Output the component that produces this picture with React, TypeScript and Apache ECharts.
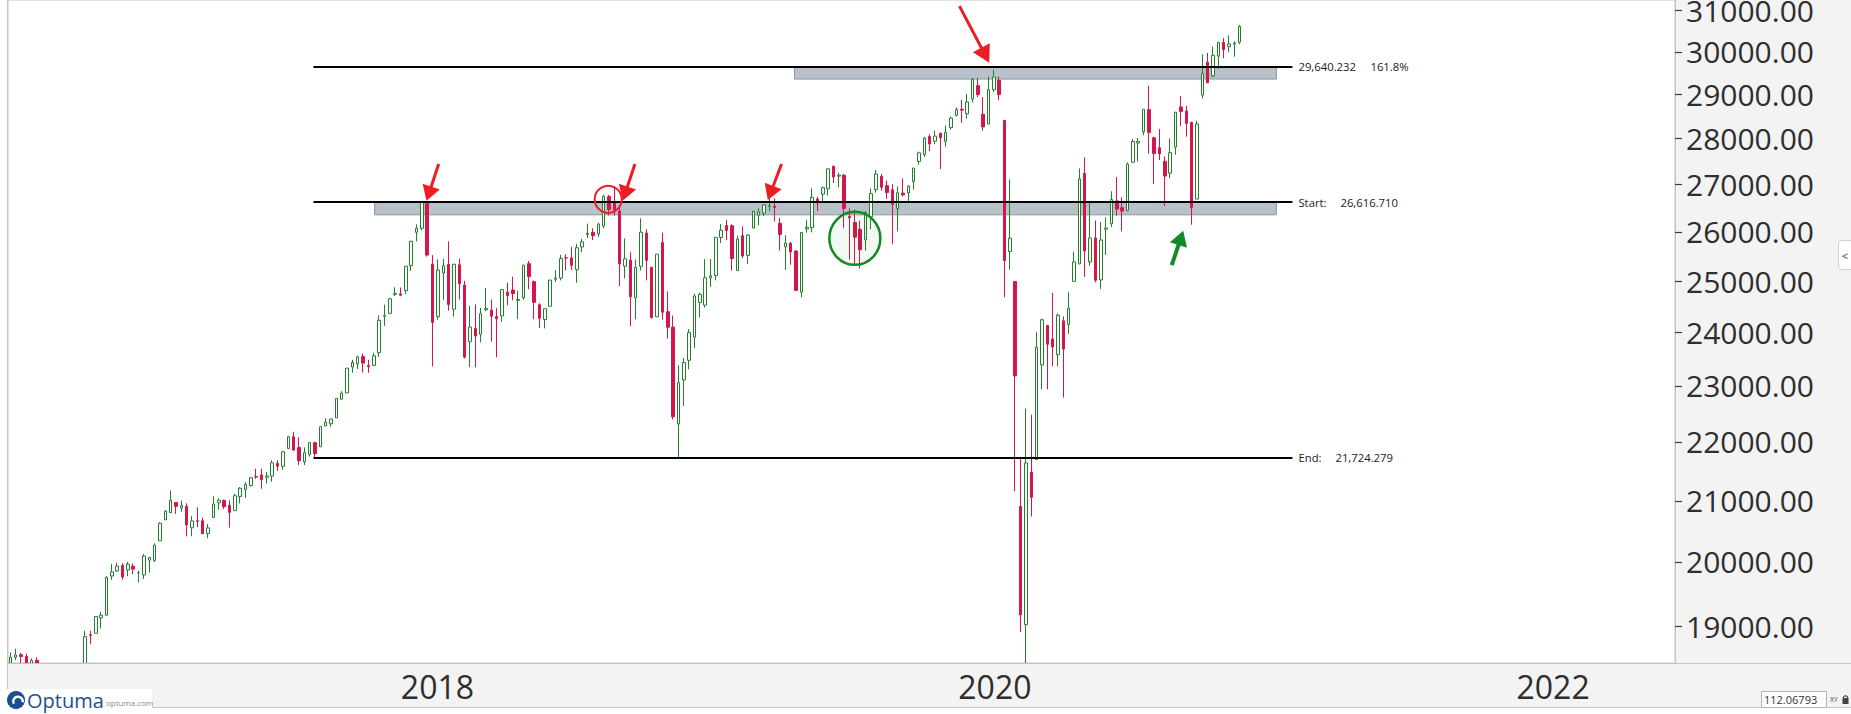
import React, { useEffect, useRef } from "react";
import * as echarts from "echarts";

const FONT = "'Open Sans', 'Noto Sans', 'DejaVu Sans', sans-serif";

// Weekly DJIA candles, one per week starting Monday 2016-08-01
const FIRST_WEEK = "2016-08-01";
const OPEN = [
  18432, 18542, 18579, 18553, 18403, 18497, 18054, 18136, 18221, 18283,
  18282, 18131, 18150, 18175, 17994, 18876, 18898, 19132, 19171, 19777,
  19858, 19943, 19873, 19931, 19826, 19794, 20028, 20025, 20338, 20681,
  20801, 20967, 20876, 20903, 20550, 20665, 20665, 20454, 20719, 20962,
  21002, 20920, 20831, 21064, 21186, 21252, 21401, 21432, 21392, 21412,
  21628, 21578, 21883, 22091, 21905, 21655, 21785, 21988, 21916, 22280,
  22320, 22424, 22759, 22873, 23348, 23403, 23545, 23376, 23380, 23617,
  24311, 24366, 24739, 24746, 24809, 25308, 25987, 26070, 26584, 25337,
  24301, 25160, 25330, 24447, 25326, 24922, 23824, 24076, 23963, 24436,
  24428, 24304, 24317, 24779, 24821, 24619, 24670, 25347, 24986, 24533,
  24247, 24504, 25036, 25060, 25466, 25462, 25226, 25685, 25940, 25988,
  25950, 26116, 26733, 26598, 26430, 25297, 25418, 24673, 25294, 25972,
  25274, 24300, 25779, 24398, 24101, 22317, 23110, 23474, 23910, 24579,
  24526, 25062, 25108, 25880, 26127, 26122, 25208, 25916, 25514, 26075,
  26341, 26385, 26530, 26528, 26174, 25688, 25764, 25602, 24782, 26057,
  26085, 26681, 26787, 26899, 27386, 27171, 27190, 26313, 26190, 26050,
  25832, 26307, 26882, 27168, 26968, 26879, 26478, 26810, 26811, 27057,
  27492, 27641, 28040, 27936, 28109, 27935, 28240, 28515, 28654, 28553,
  28889, 29197, 28542, 28319, 29102, 29322, 28403, 25591, 24992, 20900,
  19028, 21480, 21693, 23389, 24133, 23873, 23579, 24221, 24152, 24994,
  25342, 27232, 25382, 25870, 25023, 26050, 26163, 26643, 26498, 26437,
  27474, 27896, 28146, 28645, 28013, 27792, 27493, 27237, 27807, 28707,
  28615, 28356, 26681, 28977, 29743, 29427, 29891, 30216, 30114, 30176,
  30223,
];
const HIGH = [
  18613, 18668, 18607, 18595, 18523, 18538, 18264, 18449, 18399, 18309,
  18400, 18233, 18255, 18178, 18934, 18935, 19152, 19225, 19774, 19966,
  19988, 19981, 19999, 19973, 19860, 20125, 20071, 20298, 20639, 20840,
  21169, 20970, 21000, 20951, 20741, 20887, 20715, 20611, 21070, 21034,
  21017, 21000, 21113, 21225, 21305, 21392, 21536, 21535, 21480, 21682,
  21681, 21841, 22092, 22179, 22085, 21905, 21988, 22004, 22275, 22419,
  22405, 22777, 22905, 23329, 23485, 23557, 23602, 23485, 23617, 24327,
  24534, 24669, 24876, 24872, 25299, 25809, 26153, 26617, 26609, 25520,
  25432, 25441, 25800, 25340, 25449, 25005, 24511, 24540, 24474, 24858,
  24635, 24468, 24839, 24966, 25086, 24806, 25326, 25402, 25010, 24563,
  24456, 25019, 25215, 25527, 25540, 25692, 25746, 25850, 26167, 26071,
  26183, 26769, 26770, 26951, 26516, 25861, 25579, 25433, 26277, 26049,
  25283, 25538, 25980, 24797, 24324, 23381, 23518, 24064, 24750, 24770,
  25439, 25439, 25883, 26156, 26241, 26156, 25920, 26109, 25949, 26430,
  26487, 26565, 26695, 26696, 26286, 25927, 25790, 25618, 25984, 26244,
  26908, 26730, 26952, 27332, 27398, 27250, 27221, 26486, 26460, 26229,
  26423, 26908, 27306, 27219, 27080, 26998, 26951, 27122, 26976, 27347,
  27708, 28036, 28090, 28175, 28133, 28290, 28491, 28702, 28872, 29009,
  29374, 29373, 28931, 29408, 29568, 29409, 28403, 27102, 24992, 21740,
  22595, 22480, 24009, 24264, 24134, 24765, 24365, 24307, 24778, 25585,
  27338, 27580, 26611, 26230, 26204, 26292, 26848, 27151, 26719, 27470,
  27990, 28008, 28654, 29199, 28036, 28212, 27600, 28000, 28588, 28958,
  28735, 28374, 28395, 29934, 29964, 30116, 30218, 30320, 30389, 30249,
  30637,
];
const LOW = [
  18247, 18500, 18450, 18351, 18359, 18085, 17992, 18086, 18094, 18161,
  17959, 17942, 18069, 17784, 17994, 18735, 18898, 18970, 19171, 19717,
  19843, 19718, 19775, 19806, 19677, 19731, 19831, 19999, 20338, 20681,
  20801, 20777, 20813, 20412, 20412, 20561, 20453, 20379, 20719, 20847,
  20857, 20553, 20831, 20950, 21044, 21234, 21365, 21197, 21283, 21315,
  21498, 21519, 21883, 21843, 21600, 21600, 21745, 21709, 21916, 22280,
  22269, 22424, 22759, 22873, 23242, 23314, 23247, 23242, 23380, 23539,
  24126, 24366, 24701, 24699, 24741, 25200, 25799, 26030, 25490, 23360,
  24241, 24627, 24418, 24301, 24636, 23510, 23345, 23344, 23809, 24411,
  23824, 23532, 24205, 24525, 24622, 24252, 24634, 24836, 24252, 24084,
  24076, 24500, 24980, 25012, 25213, 25222, 24965, 25582, 25867, 25828,
  25890, 26070, 26337, 26332, 24899, 25052, 24122, 24250, 25211, 25012,
  24268, 24300, 24242, 23881, 22397, 21724, 22638, 23307, 23705, 24288,
  24478, 24883, 25014, 25765, 25827, 25208, 25208, 25462, 25345, 26075,
  26130, 26322, 26425, 26213, 25610, 25222, 25327, 24805, 24680, 25982,
  25986, 26430, 26635, 26755, 27028, 26932, 26078, 25427, 25339, 25250,
  25611, 26051, 26817, 26863, 26688, 25743, 26005, 26737, 26624, 26884,
  27422, 27591, 27719, 27872, 27325, 27816, 28193, 28492, 28350, 28443,
  28811, 28930, 28169, 28319, 29052, 28865, 24681, 25226, 21154, 18917,
  18214, 20735, 21693, 22941, 22941, 23361, 23362, 22790, 23974, 24994,
  25342, 25082, 25304, 24974, 24843, 25523, 26094, 26332, 26005, 26437,
  27474, 27487, 28070, 27664, 26999, 27519, 26537, 27125, 27637, 28278,
  28039, 26144, 26681, 28903, 29263, 29388, 29589, 29841, 29983, 29878,
  30176,
];
const CLOSE = [
  18543, 18576, 18552, 18395, 18492, 18085, 18124, 18262, 18308, 18240,
  18138, 18145, 18161, 17888, 18847, 18868, 19152, 19171, 19757, 19843,
  19934, 19763, 19964, 19886, 19827, 20094, 20071, 20269, 20624, 20822,
  21005, 20903, 20915, 20597, 20663, 20656, 20453, 20548, 20941, 21007,
  20897, 20805, 21080, 21206, 21272, 21384, 21395, 21350, 21414, 21638,
  21580, 21830, 22092, 21858, 21675, 21814, 21988, 21798, 22268, 22349,
  22405, 22773, 22871, 23329, 23434, 23539, 23422, 23358, 23558, 24231,
  24329, 24651, 24754, 24719, 25296, 25803, 26072, 26616.71, 25521, 24191,
  25219, 25310, 24538, 25336, 24946, 23533, 24103, 23933, 24360, 24463,
  24311, 24263, 24831, 24715, 24753, 24635, 25317, 25090, 24581, 24271,
  24456, 25019, 25058, 25451, 25463, 25313, 25669, 25790, 25965, 25917,
  26155, 26744, 26458, 26447, 25340, 25444, 24689, 25271, 25989, 25413,
  24286, 25538, 24389, 24100, 22445, 23062, 23433, 23996, 24706, 24737,
  25064, 25106, 25883, 26031, 26026, 25450, 25849, 25502, 25929, 26425,
  26412, 26559, 26543, 26505, 25942, 25764, 25585, 24815, 25983, 26090,
  26719, 26600, 26922, 27332, 27154, 27192, 26485, 26287, 25886, 25629,
  26403, 26797, 27219, 26935, 26820, 26573, 26817, 26770, 26958, 27347,
  27681, 28005, 27876, 28051, 28015, 28135, 28455, 28645, 28635, 28823,
  29348, 28990, 28256, 29103, 29398, 28992, 25409, 25865, 23185, 19174,
  21637, 21053, 23720, 24242, 23775, 23724, 24331, 23685, 24465, 25383,
  27111, 25605, 25871, 25016, 25827, 26075, 26672, 26470, 26428, 27433,
  27931, 27930, 28654, 28133, 27666, 27657, 27174, 27683, 28587, 28606,
  28335, 26502, 28323, 29480, 29263, 29910, 30218, 30046, 30179, 30199,
  30606,
];

// Axes
const Y_TICKS = [19000, 20000, 21000, 22000, 23000, 24000, 25000, 26000, 27000, 28000, 29000, 30000, 31000];
const Y_RANGE = [18457, 31253];
const YEAR_TICKS = ["2018-01-01", "2020-01-01", "2022-01-01"];
const X_RANGE = ["2016-07-29", "2022-07-21"];

// Fibonacci extension tool
const FIB_START = 26616.71;
const FIB_END = 21724.279;
const FIB_EXT = 29640.232;
const FIB_RATIO = "161.8%";
const FIB_SPAN = ["2017-09-02", "2021-03-07"];
const ZONES = [
  { from: "2017-11-21", to: "2021-02-14", low: 26350, high: FIB_START },
  { from: "2019-05-25", to: "2021-02-14", low: 29350, high: FIB_EXT },
];

// Hand-drawn annotations (data coordinates)
const ARROWS = [
  { tail: ["2018-02-13", 27434], tip: ["2018-01-28", 26645], kind: "red" },
  { tail: ["2018-10-28", 27434], tip: ["2018-10-12", 26645], kind: "red" },
  { tail: ["2019-05-08", 27434], tip: ["2019-04-20", 26660], kind: "red" },
  { tail: ["2019-12-27", 31102], tip: ["2020-02-04", 29733], kind: "bigred" },
  { tail: ["2020-09-30", 25318], tip: ["2020-10-15", 26018], kind: "green" },
];
const CIRCLES = [
  { center: ["2018-09-23", 26676], kind: "red" },
  { center: ["2019-08-12", 25862], kind: "green" },
];

const ts = (s: string) => Date.parse(s + "T00:00:00Z");
const DAY = 86400000;
const fmt3 = (n: number) =>
  n.toLocaleString("en-US", { minimumFractionDigits: 3, maximumFractionDigits: 3 });

const UP = "#23802c";
const DOWN = "#d3164b";
const RED = "#ee1d23";
const GREEN = "#138a25";
const PANEL = "#f3f3f3";
const BORDER = "#c4c4c4";
const AXIS_TEXT = "#2e2e2e";

const GRID = { left: 8, top: 0, width: 1667, height: 663 };

function buildGraphics(chart: any) {
  const px = (p: any[]) => chart.convertToPixel({ gridIndex: 0 }, [ts(p[0]), p[1]]) as number[];
  const gRight = GRID.left + GRID.width;
  const gBottom = GRID.top + GRID.height;
  const out: any[] = [];
  // page chrome: white left margin and bottom strip
  out.push({ type: "rect", z: 5, silent: true, shape: { x: 0, y: 0, width: 7, height: 714 }, style: { fill: "#fff" } });
  out.push({ type: "rect", z: 5, silent: true, shape: { x: 0, y: 708, width: 1851, height: 6 }, style: { fill: "#fff" } });
  // bottom time panel drawn over candles that run below the price range
  out.push({ type: "rect", z: 3, silent: true, shape: { x: GRID.left, y: gBottom + 0.5, width: 1851 - GRID.left, height: 707 - gBottom }, style: { fill: PANEL } });
  out.push({ type: "line", z: 4, silent: true, shape: { x1: GRID.left, y1: gBottom + 0.5, x2: 1851, y2: gBottom + 0.5 }, style: { stroke: BORDER, lineWidth: 1 } });
  out.push({ type: "line", z: 6, silent: true, shape: { x1: 7.5, y1: 0, x2: 7.5, y2: 708 }, style: { stroke: BORDER, lineWidth: 1 } });
  out.push({ type: "line", z: 6, silent: true, shape: { x1: 7, y1: 707.5, x2: 1851, y2: 707.5 }, style: { stroke: BORDER, lineWidth: 1 } });
  out.push({ type: "line", z: 4, silent: true, shape: { x1: gRight + 0.5, y1: 0, x2: gRight + 0.5, y2: gBottom }, style: { stroke: BORDER, lineWidth: 1 } });

  // price axis: tick dashes and labels placed through the log scale
  Y_TICKS.forEach((v) => {
    const p = px([X_RANGE[0], v]);
    const y = Math.round(p[1]) + 0.5;
    out.push({ type: "line", z: 9, silent: true, shape: { x1: gRight, y1: y, x2: gRight + 7, y2: y }, style: { stroke: "#3c3c3c", lineWidth: 1.2 } });
    out.push({ type: "text", z: 9, silent: true, x: gRight + 11, y: p[1], style: { text: v.toFixed(2), fill: AXIS_TEXT, font: `30px ${FONT}`, align: "left", verticalAlign: "middle" } });
  });
  // time axis labels at the start of each year
  YEAR_TICKS.forEach((d) => {
    const p = px([d, Y_RANGE[0]]);
    out.push({ type: "text", z: 9, silent: true, x: p[0] - 5, y: gBottom + 23, style: { text: d.slice(0, 4), fill: AXIS_TEXT, font: `32px ${FONT}`, align: "left", verticalAlign: "middle" } });
  });

  // arrows
  ARROWS.forEach((a) => {
    const p1 = px(a.tail);
    const p2 = px(a.tip);
    const color = a.kind === "green" ? GREEN : RED;
    const headLen = a.kind === "bigred" ? 17 : 15;
    const headHalf = a.kind === "bigred" ? 9.5 : 9;
    const lw = a.kind === "green" ? 4 : 3;
    const dx = p2[0] - p1[0];
    const dy = p2[1] - p1[1];
    const len = Math.hypot(dx, dy);
    const ux = dx / len, uy = dy / len;
    const bx = p2[0] - ux * headLen, by = p2[1] - uy * headLen;
    const nx = -uy, ny = ux;
    out.push({ type: "line", z: 10, silent: true, shape: { x1: p1[0], y1: p1[1], x2: bx + ux * 2, y2: by + uy * 2 }, style: { stroke: color, lineWidth: lw } });
    out.push({
      type: "polygon", z: 10, silent: true,
      shape: { points: [[p2[0], p2[1]], [bx + nx * headHalf, by + ny * headHalf], [bx - nx * headHalf, by - ny * headHalf]] },
      style: { fill: color },
    });
  });
  // circles
  CIRCLES.forEach((c) => {
    const p = px(c.center);
    if (c.kind === "red") {
      out.push({ type: "circle", z: 10, silent: true, shape: { cx: p[0], cy: p[1], r: 13.5 }, style: { fill: "none", stroke: RED, lineWidth: 2 } });
    } else {
      out.push({ type: "ellipse", z: 10, silent: true, shape: { cx: p[0], cy: p[1], rx: 25.5, ry: 26.5 }, style: { fill: "rgba(30,140,40,0.06)", stroke: GREEN, lineWidth: 2.5 } });
    }
  });

  // Optuma logo
  out.push({ type: "rect", z: 11, silent: true, shape: { x: 0, y: 689, width: 152, height: 25 }, style: { fill: "#fff" } });
  out.push({ type: "circle", z: 12, silent: true, shape: { cx: 16, cy: 700, r: 9 }, style: { fill: "#1c4f8e" } });
  out.push({ type: "arc", z: 13, silent: true, shape: { cx: 18, cy: 701.5, r: 4.8, startAngle: Math.PI * 0.85, endAngle: Math.PI * 2.05 }, style: { stroke: "#fff", lineWidth: 2.4, fill: "none" } });
  out.push({ type: "text", z: 12, silent: true, x: 27, y: 700, style: { text: "Optuma", fill: "#1c4f8e", font: `20px ${FONT}`, verticalAlign: "middle", align: "left" } });
  out.push({ type: "text", z: 12, silent: true, x: 106, y: 702, style: { text: "optuma.com", fill: "#8a8a8a", font: `8px ${FONT}`, verticalAlign: "middle", align: "left" } });

  // bottom-right scale box
  out.push({ type: "rect", z: 11, silent: true, shape: { x: 1761.5, y: 691.5, width: 65, height: 16 }, style: { fill: "#fff", stroke: "#b4b4b4", lineWidth: 1 } });
  out.push({ type: "text", z: 12, silent: true, x: 1764, y: 699.5, style: { text: "112.06793", fill: "#333", font: `11px ${FONT}`, verticalAlign: "middle", align: "left" } });
  out.push({ type: "text", z: 12, silent: true, x: 1830, y: 699.5, style: { text: "XY", fill: "#444", font: `7px ${FONT}`, verticalAlign: "middle", align: "left" } });
  out.push({ type: "rect", z: 12, silent: true, shape: { x: 1842.5, y: 698, width: 6, height: 6 }, style: { fill: "#444" } });
  out.push({ type: "arc", z: 12, silent: true, shape: { cx: 1845.5, cy: 698, r: 2.2, startAngle: Math.PI, endAngle: 0 }, style: { stroke: "#444", lineWidth: 1.2, fill: "none" } });

  // side toggle button
  out.push({ type: "rect", z: 11, silent: true, shape: { x: 1838.5, y: 240.5, width: 16, height: 29, r: 3 }, style: { fill: "#fff", stroke: "#cfcfcf", lineWidth: 1 } });
  out.push({ type: "text", z: 12, silent: true, x: 1845, y: 255, style: { text: "<", fill: "#777", font: `bold 11px ${FONT}`, verticalAlign: "middle", align: "center" } });
  return out;
}

export default function App() {
  const ref = useRef<HTMLDivElement>(null);
  useEffect(() => {
    const el = ref.current as HTMLDivElement;
    const chart = echarts.init(el, null, { renderer: "svg" });
    const start = ts(FIRST_WEEK);
    const candles = OPEN.map((o, i) => [start + i * 7 * DAY, o, CLOSE[i], LOW[i], HIGH[i]]);
    const labelBase = { fontFamily: FONT, fontSize: 11.3, color: "#1a1a1a" };

    const option: any = {
      animation: false,
      backgroundColor: PANEL,
      grid: {
        ...GRID,
        show: true, backgroundColor: "#ffffff", borderColor: BORDER, borderWidth: 1,
        containLabel: false, outerBoundsMode: "none",
      },
      xAxis: {
        type: "value",
        min: ts(X_RANGE[0]), max: ts(X_RANGE[1]),
        axisLine: { show: false },
        axisTick: { show: false },
        splitLine: { show: false },
        axisLabel: { show: false },
      },
      yAxis: {
        type: "log", logBase: 10, position: "right",
        min: Y_RANGE[0], max: Y_RANGE[1],
        axisLine: { show: false },
        splitLine: { show: false },
        axisTick: { show: false },
        axisLabel: { show: false },
      },
      series: [
        {
          type: "line", data: [], z: 1, silent: true,
          markArea: {
            silent: true,
            itemStyle: { color: "#b8c1ca", borderColor: "#8c97a1", borderWidth: 1 },
            data: ZONES.map((zn) => [{ coord: [ts(zn.from), zn.high] }, { coord: [ts(zn.to), zn.low] }]),
          },
        },
        {
          type: "candlestick", z: 2, clip: true,
          data: candles,
          encode: { x: 0, y: [1, 2, 3, 4] },
          barWidth: 3,
          itemStyle: { color: "#ffffff", color0: DOWN, borderColor: UP, borderColor0: DOWN, borderWidth: 1 },
        },
        {
          type: "line", data: [], z: 3, silent: true,
          markLine: {
            silent: true, symbol: ["none", "none"],
            lineStyle: { color: "#000", width: 2, type: "solid" },
            label: { show: true, position: "end", distance: 6, ...labelBase },
            data: [
              [
                { coord: [ts(FIB_SPAN[0]), FIB_EXT], label: { formatter: `{a|${fmt3(FIB_EXT)}}{b|${FIB_RATIO}}`, rich: { a: { ...labelBase, width: 72 }, b: { ...labelBase } } } },
                { coord: [ts(FIB_SPAN[1]), FIB_EXT] },
              ],
              [
                { coord: [ts(FIB_SPAN[0]), FIB_START], label: { formatter: `{a|Start:}{b|${fmt3(FIB_START)}}`, rich: { a: { ...labelBase, width: 42 }, b: { ...labelBase } } } },
                { coord: [ts(FIB_SPAN[1]), FIB_START] },
              ],
              [
                { coord: [ts(FIB_SPAN[0]), FIB_END], label: { formatter: `{a|End:}{b|${fmt3(FIB_END)}}`, rich: { a: { ...labelBase, width: 37 }, b: { ...labelBase } } } },
                { coord: [ts(FIB_SPAN[1]), FIB_END] },
              ],
            ],
          },
        },
      ],
    };
    chart.setOption(option);
    chart.setOption({ graphic: buildGraphics(chart) });
    return () => chart.dispose();
  }, []);
  return <div ref={ref} style={{ position: "fixed", left: 0, top: 0, width: 1851, height: 714 }} />;
}
